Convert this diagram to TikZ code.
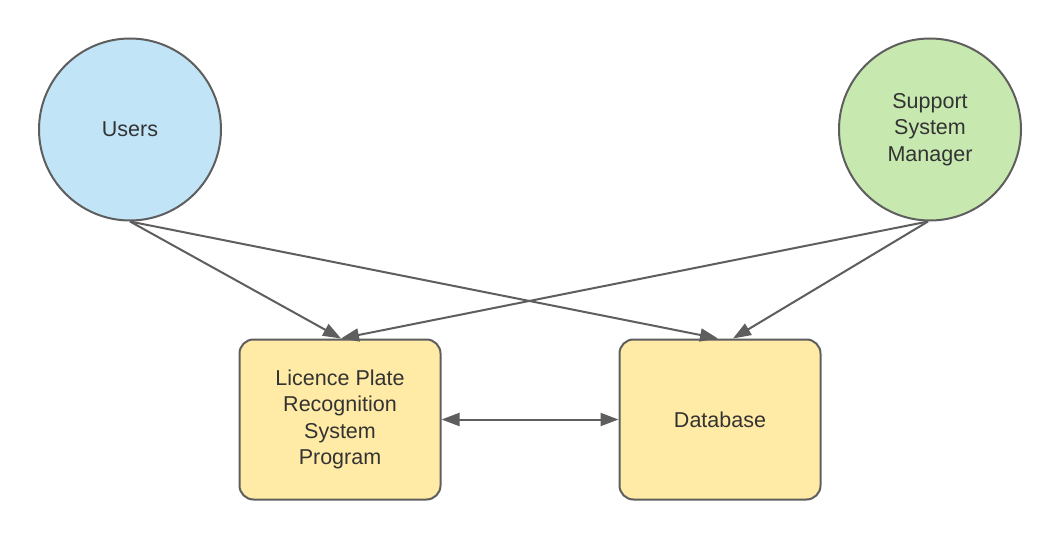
\documentclass[tikz,border=0pt]{standalone}
\usepackage{fontspec}
\setmainfont{Liberation Sans}
\usetikzlibrary{arrows.meta,calc}
\definecolor{strokegray}{HTML}{5E5E5E}
\definecolor{txt}{HTML}{333333}
\definecolor{userblue}{HTML}{C1E4F7}
\definecolor{supgreen}{HTML}{C7E9B0}
\definecolor{boxyellow}{HTML}{FFEBA5}
\tikzset{
  actor/.style={circle, draw=strokegray, line width=2pt, minimum size=182pt, inner sep=0pt,
    align=center, text=txt, font=\fontsize{21.5}{26.5}\selectfont},
  procbox/.style={rectangle, rounded corners=14pt, draw=strokegray, line width=2pt, fill=boxyellow,
    minimum width=201pt, minimum height=160pt, inner sep=0pt, align=center, text=txt,
    font=\fontsize{21.5}{26.5}\selectfont},
  flow/.style={draw=strokegray, line width=2pt, -{Triangle[length=18pt,width=13pt]}},
  dflow/.style={draw=strokegray, line width=2pt, {Triangle[length=18pt,width=13pt]}-{Triangle[length=18pt,width=13pt]}}
}
\begin{document}
\begin{tikzpicture}[x=1pt,y=-1pt]
\useasboundingbox[fill=white] (0,0) rectangle (1060,540);
\node[actor, fill=userblue] (users) at (130,129.5) {Users};
\node[actor, fill=supgreen] (support) at (930,129.5) {Support\\System\\Manager};
\node[procbox] (lpr) at (340,419.5) {Licence Plate\\Recognition\\System\\Program};
\node[procbox] (db) at (720,419.5) {Database};
\draw[flow] (users.south) -- ($(lpr.north)+(1,0)$);
\draw[flow] (users.south) -- ($(db.north)+(-2,0)$);
\draw[flow] ($(support.south)+(-2,0)$) -- ($(lpr.north)+(1,0)$);
\draw[flow] ($(support.south)+(-2,0)$) -- ($(db.north)+(13,0)$);
\draw[dflow] (lpr.east) -- (db.west);
\end{tikzpicture}
\end{document}
